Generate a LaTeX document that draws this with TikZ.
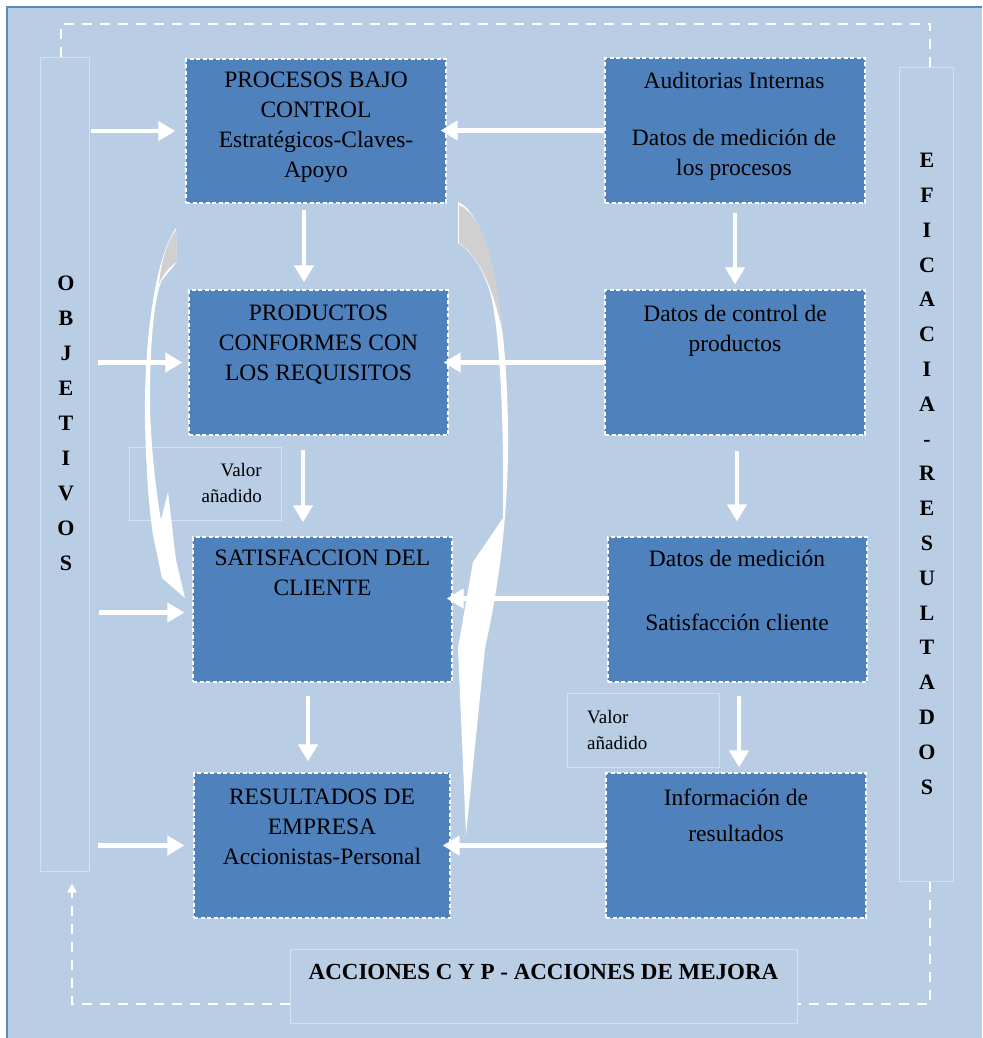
\documentclass[tikz,border=0pt]{standalone}
\usepackage{fontspec}
\setmainfont{Liberation Serif}
\usetikzlibrary{arrows.meta,calc}
\definecolor{bgblue}{HTML}{B9CDE5}
\definecolor{boxblue}{HTML}{4F81BD}
\definecolor{frameblue}{HTML}{5A87C2}
\definecolor{lightedge}{HTML}{D3E0F0}
\definecolor{curvegray}{HTML}{D0D0D0}
\begin{document}
\begin{tikzpicture}[x=1pt,y=-1pt,
  bluebox/.style={draw=white, fill=boxblue, line width=1.3pt, dash pattern=on 4pt off 2.5pt, inner sep=0pt},
  palebox/.style={draw=lightedge, line width=1pt, inner sep=0pt},
  boxtext/.style={anchor=north, inner sep=0pt, align=center, font=\fontsize{23.5}{30}\selectfont},
  vert/.style={anchor=north, inner sep=0pt, align=center},
  valt/.style={inner sep=0pt, font=\fontsize{19}{26}\selectfont},
  warr/.style={draw=white, line width=4.5pt, -{Triangle[length=17pt,width=19pt]}},
  loopdash/.style={draw=white, line width=2.5pt, dash pattern=on 10pt off 8pt},
]
\useasboundingbox (0,0) rectangle (982,1038);
\fill[white] (0,0) rectangle (982,1038);
\fill[bgblue] (7,7) rectangle (982,1038);
\draw[frameblue, line width=2pt] (7,1038) -- (7,7) -- (982,7);

% side and bottom pale boxes
\node[palebox, minimum width=49pt, minimum height=813pt] (obj) at (64.5,464.5) {};
\node[palebox, minimum width=54pt, minimum height=813pt] (efi) at (926,474.5) {};
\node[palebox, minimum width=507pt, minimum height=74pt] (acc) at (543.5,986) {};
\node[palebox, minimum width=152pt, minimum height=73pt] (v1) at (205,483.5) {};
\node[palebox, minimum width=152pt, minimum height=74pt] (v2) at (643,730) {};

% blue boxes
\node[bluebox, minimum width=260pt, minimum height=144pt] (b1) at (316,131) {};
\node[bluebox, minimum width=259pt, minimum height=145pt] (b2) at (318.5,362.5) {};
\node[bluebox, minimum width=259pt, minimum height=145pt] (b3) at (322.5,609.5) {};
\node[bluebox, minimum width=256pt, minimum height=145pt] (b4) at (322,845.5) {};
\node[bluebox, minimum width=260pt, minimum height=145pt] (r1) at (735,130.5) {};
\node[bluebox, minimum width=260pt, minimum height=145pt] (r2) at (735,362.5) {};
\node[bluebox, minimum width=259pt, minimum height=145pt] (r3) at (737.5,609.5) {};
\node[bluebox, minimum width=260pt, minimum height=145pt] (r4) at (736,845.5) {};

% texts
\node[boxtext] (b1t) at (316,72) {PROCESOS BAJO\\CONTROL\\Estratégicos-Claves-\\Apoyo};
\node[boxtext] (b2t) at (318.5,305) {PRODUCTOS\\CONFORMES CON\\LOS REQUISITOS};
\node[boxtext] (b3t) at (322.5,550) {SATISFACCION DEL\\CLIENTE};
\node[boxtext] (b4t) at (322,789) {RESULTADOS DE\\EMPRESA\\Accionistas-Personal};
\node[boxtext] (r1t) at (734,72) {Auditorias Internas\\[27pt]Datos de medición de\\los procesos};
\node[boxtext] (r2t) at (735,305) {Datos de control de\\productos};
\node[boxtext] (r3t) at (737,550) {Datos de medición\\[34pt]Satisfacción cliente};
\node[boxtext] (r4t) at (736,789) {Información de\\[6pt]resultados};

\node[vert, font=\fontsize{22}{35}\selectfont\bfseries] (objt) at (66,276) {O\\B\\J\\E\\T\\I\\V\\O\\S};
\node[vert, font=\fontsize{22}{34.8}\selectfont\bfseries] (efit) at (927,153) {E\\F\\I\\C\\A\\C\\I\\A\\-\\R\\E\\S\\U\\L\\T\\A\\D\\O\\S};

\node[valt, anchor=north east, align=right] (v1t) at (262,463) {Valor\\añadido};
\node[valt, anchor=north west, align=left] (v2t) at (587,710) {Valor\\añadido};

\node[inner sep=0pt, font=\fontsize{23}{28}\selectfont\bfseries] (acct) at (543.5,972) {ACCIONES C Y P - ACCIONES DE MEJORA};

% dashed feedback loop
\coordinate (tl) at (61,24);
\coordinate (tr) at (930,24);
\coordinate (br) at (930,1004);
\coordinate (bl) at (72,1004);
\draw[loopdash] ([xshift=-3.5pt]obj.north) -- (tl) -- (tr) -- (tr |- efi.north);
\draw[loopdash] (br |- efi.south) -- (br) -- (acc.east |- br);
\draw[loopdash, -{Triangle[length=9pt,width=9pt]}, shorten >=12pt] (acc.west |- bl) -- (bl) -- (bl |- obj.south);

% horizontal arrows from objetivos
\draw[warr, shorten <=1pt, shorten >=10pt] (obj.east |- b1.west) -- (b1.west);
\draw[warr, shorten <=8pt, shorten >=6pt] (obj.east |- b2.west) -- (b2.west);
\draw[warr, shorten <=9pt, shorten >=8pt] ([yshift=-3pt]obj.east |- b3.west) -- ([yshift=-3pt]b3.west);
\draw[warr, shorten <=8pt, shorten >=9pt] (obj.east |- b4.west) -- (b4.west);

% horizontal arrows from right column
\draw[warr, shorten >=-6pt] (r1.west) -- (r1.west -| b1.east);
\draw[warr, shorten >=-5pt] (r2.west) -- (r2.west -| b2.east);
\draw[warr, shorten >=-6pt] ([yshift=11pt]r3.west) -- ([yshift=11pt]r3.west -| b3.east);
\draw[warr, shorten >=-8pt] (r4.west) -- (r4.west -| b4.east);

% vertical arrows
\draw[warr, shorten <=6pt, shorten >=7pt] ([xshift=-12pt]b1.south) -- ([xshift=-12pt]b1.south |- b2.north);
\draw[warr, shorten <=14pt, shorten >=14pt] ([xshift=-15.5pt]b2.south) -- ([xshift=-15.5pt]b2.south |- b3.north);
\draw[warr, shorten <=13pt, shorten >=11pt] ([xshift=-14.5pt]b3.south) -- ([xshift=-14.5pt]b3.south |- b4.north);
\draw[warr, shorten <=9pt, shorten >=5pt] (r1.south) -- (r1.south |- r2.north);
\draw[warr, shorten <=15pt, shorten >=15pt] ([xshift=2pt]r2.south) -- ([xshift=2pt]r2.south |- r3.north);
\draw[warr, shorten <=13pt, shorten >=5pt] ([xshift=1.5pt]r3.south) -- ([xshift=1.5pt]r3.south |- r4.north);

% left curved arrow
\fill[white] (176,228) .. controls (155,258) and (144,340) .. (145,420)
  .. controls (146,470) and (149,510) .. (153,535) -- (162,578) -- (185,598)
  -- (176,560) -- (168,492) -- (161,520)
  .. controls (154,480) and (150,430) .. (150,400)
  .. controls (150,330) and (156,292) .. (162,280) -- (177,262) -- cycle;
\fill[curvegray] (176,230) -- (177,262) .. controls (169,267) and (163,274) .. (159,284)
  .. controls (161,262) and (167,242) .. (176,230) -- cycle;

% right curved arrow
\fill[white] (458,202) .. controls (490,215) and (507,320) .. (508,430)
  .. controls (509,515) and (498,590) .. (485,648) -- (466,835) -- (458,648)
  -- (473,562) -- (503,518)
  .. controls (504,420) and (500,330) .. (490,292)
  .. controls (482,266) and (470,250) .. (458,243) -- cycle;
\fill[curvegray] (459,205) .. controls (484,216) and (497,270) .. (502,330)
  .. controls (494,292) and (480,256) .. (459,243) -- cycle;
\end{tikzpicture}
\end{document}
